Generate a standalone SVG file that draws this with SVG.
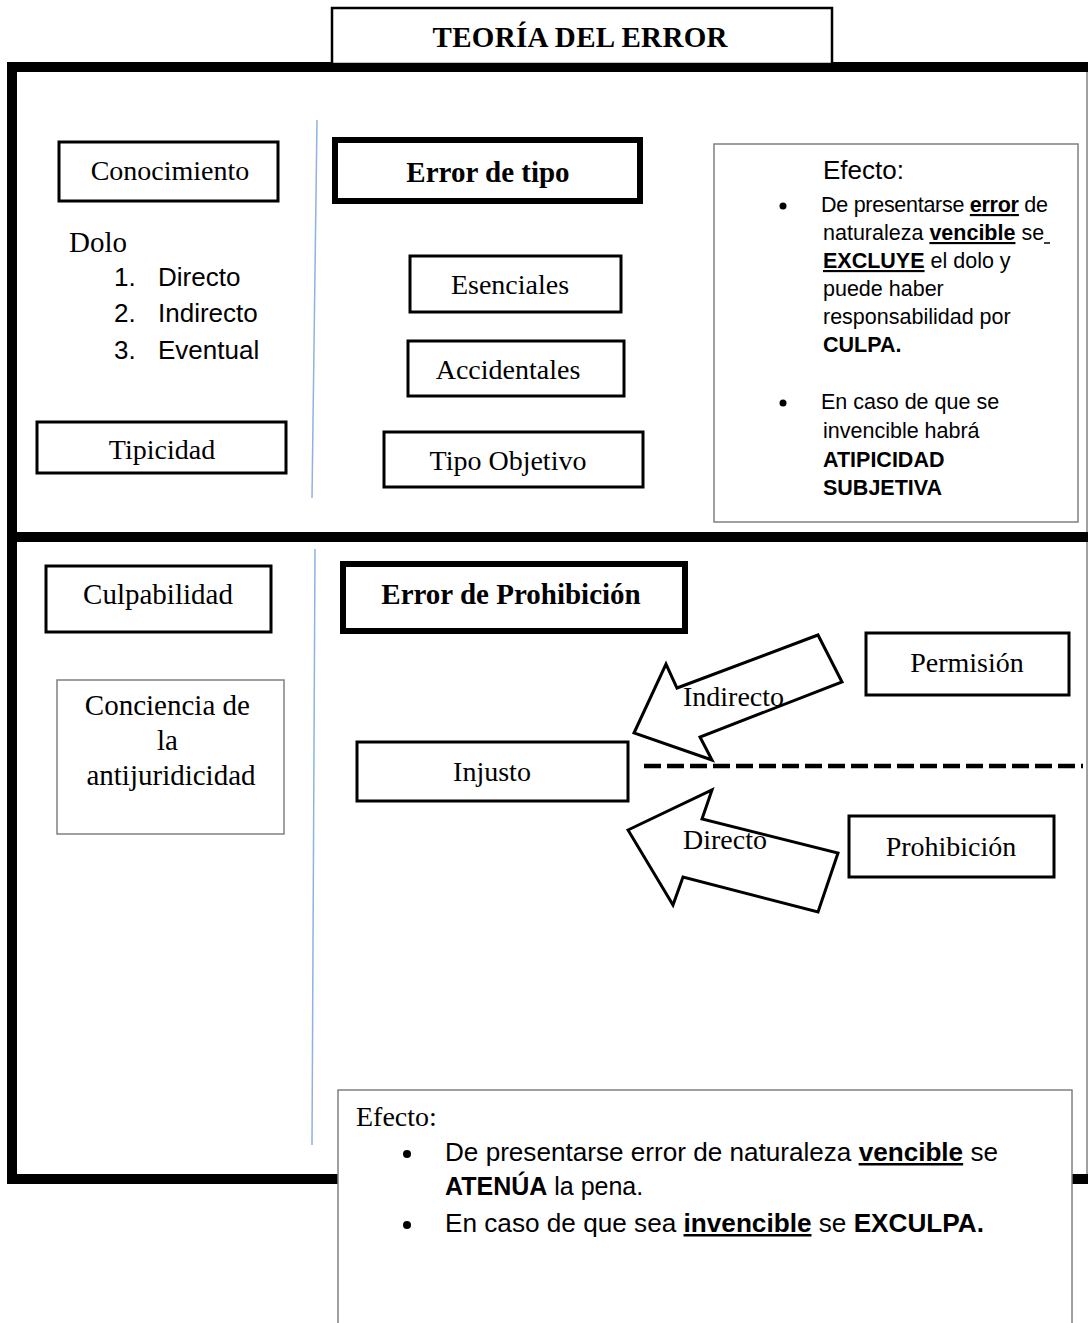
<svg xmlns="http://www.w3.org/2000/svg" width="1088" height="1323" viewBox="0 0 1088 1323">
<style>
.serif{font-family:"Liberation Serif","Times New Roman",serif;fill:#000}
.sans{font-family:"Liberation Sans",Arial,sans-serif;fill:#000}
.lbl{font-size:28px;text-anchor:middle}
.box{fill:#fff;stroke:#000;stroke-width:3}
.thick{fill:#fff;stroke:#000;stroke-width:6}
.thin{fill:#fff;stroke:#808080;stroke-width:1.5}
.b{font-weight:bold}
.u{text-decoration:underline}
.sep{stroke:#8DB3E2;stroke-width:1.5}
.arrow{fill:#fff;stroke:#000;stroke-width:3;stroke-linejoin:miter}
</style>
<rect width="1088" height="1323" fill="#fff"/>

<!-- frame -->
<g id="frame">
  <line x1="1087" y1="72" x2="1087" y2="1176" stroke="#808080" stroke-width="1.5"/>
  <rect x="7" y="62" width="1081" height="10" fill="#000"/>
  <rect x="7" y="532" width="1081" height="10" fill="#000"/>
  <rect x="7" y="1174" width="1081" height="10" fill="#000"/>
  <rect x="7" y="62" width="10" height="1122" fill="#000"/>
  <line class="sep" x1="317" y1="120" x2="312" y2="498"/>
  <line class="sep" x1="315" y1="549" x2="312" y2="1145"/>
</g>

<g id="title">
  <rect x="332" y="8" width="500" height="56" fill="#fff" stroke="#000" stroke-width="2.5"/>
  <text class="serif b" x="580" y="47" font-size="29" text-anchor="middle" textLength="295">TEORÍA DEL ERROR</text>
</g>

<!-- top section -->
<g id="conocimiento">
  <rect class="box" x="59" y="142" width="219" height="59"/>
  <text class="serif lbl" x="170" y="180">Conocimiento</text>
</g>
<g id="dolo">
  <text class="serif" x="69" y="252" font-size="29">Dolo</text>
  <text class="sans" font-size="26"><tspan x="114" y="286">1.</tspan><tspan x="158" y="286">Directo</tspan></text>
  <text class="sans" font-size="26"><tspan x="114" y="322">2.</tspan><tspan x="158" y="322">Indirecto</tspan></text>
  <text class="sans" font-size="26"><tspan x="114" y="359">3.</tspan><tspan x="158" y="359">Eventual</tspan></text>
</g>
<g id="tipicidad">
  <rect class="box" x="37" y="422" width="249" height="51"/>
  <text class="serif lbl" x="162" y="459">Tipicidad</text>
</g>
<g id="error-tipo">
  <rect class="thick" x="335" y="140" width="305" height="61"/>
  <text class="serif b" x="488" y="182" font-size="29" text-anchor="middle">Error de tipo</text>
</g>
<g id="esenciales">
  <rect class="box" x="410" y="256" width="211" height="56"/>
  <text class="serif lbl" x="510" y="294">Esenciales</text>
</g>
<g id="accidentales">
  <rect class="box" x="408" y="341" width="216" height="55"/>
  <text class="serif lbl" x="508" y="379">Accidentales</text>
</g>
<g id="tipo-objetivo">
  <rect class="box" x="384" y="432" width="259" height="55"/>
  <text class="serif lbl" x="508" y="470">Tipo Objetivo</text>
</g>
<g id="efecto-tipo">
  <rect class="thin" x="714" y="144" width="364" height="378"/>
  <text class="sans" x="823" y="179" font-size="26">Efecto:</text>
  <circle cx="783" cy="206" r="3.5" fill="#000"/>
  <circle cx="783" cy="403" r="3.5" fill="#000"/>
  <g class="sans" font-size="21.5">
    <text x="821" y="212" textLength="227" lengthAdjust="spacing">De presentarse <tspan class="b u">error</tspan> de</text>
    <text x="823" y="240">naturaleza <tspan class="b u">vencible</tspan> se</text>
    <line x1="1044" y1="243" x2="1050" y2="243" stroke="#000" stroke-width="1.5"/>
    <text x="823" y="268"><tspan class="b u">EXCLUYE</tspan> el dolo y</text>
    <text x="823" y="296">puede haber</text>
    <text x="823" y="324">responsabilidad por</text>
    <text x="823" y="352" class="b">CULPA.</text>
    <text x="821" y="409">En caso de que se</text>
    <text x="823" y="438">invencible habrá</text>
    <text x="823" y="467" class="b">ATIPICIDAD</text>
    <text x="823" y="495" class="b">SUBJETIVA</text>
  </g>
</g>

<!-- bottom section -->
<g id="culpabilidad">
  <rect class="box" x="46" y="566" width="225" height="66"/>
  <text class="serif" x="158" y="604" font-size="29" text-anchor="middle">Culpabilidad</text>
</g>
<g id="conciencia">
  <rect class="thin" x="57" y="680" width="227" height="154"/>
  <text class="serif" font-size="29" text-anchor="middle">
    <tspan x="171" y="715">Conciencia de</tspan>
    <tspan x="171" y="750">la</tspan>
    <tspan x="171" y="785">antijuridicidad</tspan>
  </text>
</g>
<g id="error-prohibicion">
  <rect class="thick" x="343" y="564" width="342" height="67"/>
  <text class="serif b" x="511" y="604" font-size="29" text-anchor="middle">Error de Prohibición</text>
</g>
<g id="injusto">
  <rect class="box" x="357" y="742" width="271" height="59"/>
  <text class="serif lbl" x="492" y="781">Injusto</text>
</g>
<g id="permision">
  <rect class="box" x="866" y="633" width="203" height="62"/>
  <text class="serif lbl" x="967" y="672">Permisión</text>
</g>
<g id="prohibicion">
  <rect class="box" x="849" y="816" width="205" height="61"/>
  <text class="serif lbl" x="951" y="856">Prohibición</text>
</g>

<g id="connectors">
  <line x1="644" y1="766" x2="1083" y2="766" stroke="#000" stroke-width="4.5" stroke-dasharray="17,6"/>
  <polygon class="arrow" points="634,733 666,664 677,688 818,635 842,682 700,737 712,760"/>
  <text class="serif" x="683" y="706" font-size="28">Indirecto</text>
  <polygon class="arrow" points="628,830 712,790 702,819 838,853 818,912 683,877 673,905"/>
  <text class="serif" x="683" y="849" font-size="28">Directo</text>
</g>

<g id="efecto-prohibicion">
  <rect class="thin" x="338" y="1090" width="734" height="250"/>
  <text class="serif" x="356" y="1126" font-size="28">Efecto:</text>
  <circle cx="407" cy="1154" r="4" fill="#000"/>
  <circle cx="407" cy="1225" r="4" fill="#000"/>
  <g class="sans" font-size="25">
    <text x="445" y="1161" textLength="553" lengthAdjust="spacingAndGlyphs">De presentarse error de naturaleza <tspan class="b u">vencible</tspan> se</text>
    <text x="445" y="1195"><tspan class="b">ATENÚA</tspan> la pena.</text>
    <text x="445" y="1232" textLength="539" lengthAdjust="spacingAndGlyphs">En caso de que sea <tspan class="b u">invencible</tspan> se <tspan class="b">EXCULPA.</tspan></text>
  </g>
</g>
</svg>
